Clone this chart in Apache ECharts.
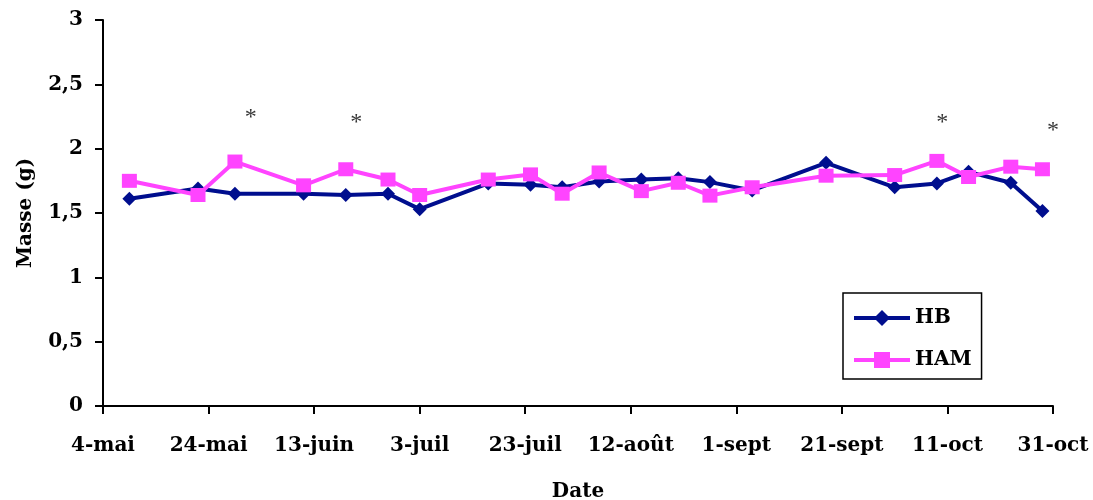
<!DOCTYPE html>
<html>
<head>
<meta charset="utf-8">
<script src="https://cdn.jsdelivr.net/npm/echarts@6/dist/echarts.min.js"></script>
<style>
  html, body { margin: 0; padding: 0; background: #ffffff; }
  #chart { width: 1093px; height: 500px; }
</style>
</head>
<body>
<div id="chart"></div>
<script>
// ---- data ----
const startDate = '2006-05-04';
const dates = [
  '2006-05-09', '2006-05-22', '2006-05-29', '2006-06-11', '2006-06-19', '2006-06-27', '2006-07-03',
  '2006-07-16', '2006-07-24', '2006-07-30', '2006-08-06', '2006-08-14', '2006-08-21', '2006-08-27',
  '2006-09-04', '2006-09-18', '2006-10-01', '2006-10-09', '2006-10-15', '2006-10-23', '2006-10-29'
];
const hbValues = [
  1.61, 1.69, 1.65, 1.65, 1.64, 1.65, 1.53,
  1.73, 1.72, 1.70, 1.745, 1.76, 1.77, 1.74,
  1.675, 1.89, 1.70, 1.73, 1.82, 1.735, 1.515
];
const hamValues = [
  1.75, 1.64, 1.90, 1.715, 1.84, 1.76, 1.64,
  1.76, 1.80, 1.65, 1.815, 1.67, 1.735, 1.635,
  1.70, 1.79, 1.795, 1.905, 1.78, 1.86, 1.84
];
const starDates = ['2006-06-01', '2006-06-21', '2006-10-10', '2006-10-31'];
const starValues = [2.245, 2.21, 2.21, 2.15];
const tickLabels = ['4-mai', '24-mai', '13-juin', '3-juil', '23-juil', '12-août', '1-sept', '21-sept', '11-oct', '31-oct'];
const yTickLabels = ['0', '0,5', '1', '1,5', '2', '2,5', '3'];

// ---- helpers ----
function dayOffset(d) {
  const p = d.split('-').map(Number);
  const s = startDate.split('-').map(Number);
  return Math.round((Date.UTC(p[0], p[1] - 1, p[2]) - Date.UTC(s[0], s[1] - 1, s[2])) / 86400000);
}
const xDays = dates.map(dayOffset);
const hbData = xDays.map((x, i) => [x, hbValues[i]]);
const hamData = xDays.map((x, i) => [x, hamValues[i]]);
const starData = starDates.map((d, i) => [dayOffset(d), starValues[i]]);

const FONT = "'DejaVu Serif', 'Liberation Serif', serif";
const NAVY = '#000E8E';
const PINK = '#FF44FF';

const chart = echarts.init(document.getElementById('chart'), null, { renderer: 'canvas' });
chart.setOption({
  animation: false,
  backgroundColor: '#ffffff',
  grid: { left: 103, right: 40, top: 20, bottom: 94, containLabel: false, outerBoundsMode: 'none' },
  legend: {
    orient: 'vertical',
    left: 843,
    top: 293,
    padding: [15, 10, 9, 9],
    itemGap: 22,
    itemWidth: 56,
    itemHeight: 20,
    borderColor: '#000',
    borderWidth: 1.5,
    lineStyle: { width: 4 },
    textStyle: { fontFamily: FONT, fontWeight: 'bold', fontSize: 20, color: '#000' },
    data: ['HB', 'HAM']
  },
  xAxis: {
    type: 'value',
    min: 0, max: 180, interval: 20,
    name: 'Date',
    nameLocation: 'middle',
    nameGap: 76,
    nameTextStyle: { fontFamily: FONT, fontWeight: 'bold', fontSize: 20, color: '#000' },
    axisLine: { lineStyle: { color: '#000', width: 2 } },
    axisTick: { length: 8, lineStyle: { color: '#000', width: 2 } },
    splitLine: { show: false },
    axisLabel: {
      margin: 30,
      fontFamily: FONT, fontWeight: 'bold', fontSize: 20, color: '#000',
      formatter: v => tickLabels[Math.round(v / 20)]
    }
  },
  yAxis: {
    type: 'value',
    min: 0, max: 3, interval: 0.5,
    name: 'Masse (g)',
    nameLocation: 'middle',
    nameGap: 67,
    nameRotate: 90,
    nameTextStyle: { fontFamily: FONT, fontWeight: 'bold', fontSize: 20, color: '#000' },
    axisLine: { show: true, lineStyle: { color: '#000', width: 2 } },
    axisTick: { show: true, length: 8, lineStyle: { color: '#000', width: 2 } },
    splitLine: { show: false },
    axisLabel: {
      margin: 20,
      fontFamily: FONT, fontWeight: 'bold', fontSize: 20, color: '#000',
      formatter: v => yTickLabels[Math.round(v * 2)]
    }
  },
  series: [
    {
      name: 'HB',
      type: 'line',
      data: hbData,
      symbol: 'diamond',
      symbolSize: [14, 14],
      itemStyle: { color: NAVY },
      lineStyle: { color: NAVY, width: 4 },
      z: 2
    },
    {
      name: 'HAM',
      type: 'line',
      data: hamData,
      symbol: 'rect',
      symbolSize: [15, 14],
      itemStyle: { color: PINK },
      lineStyle: { color: PINK, width: 4 },
      z: 3
    },
    {
      name: 'stars',
      type: 'scatter',
      data: starData,
      symbolSize: 1,
      itemStyle: { color: 'rgba(0,0,0,0)' },
      silent: true,
      label: {
        show: true,
        position: 'inside',
        formatter: '*',
        offset: [0, 1],
        fontFamily: "'Liberation Serif', serif",
        fontSize: 24,
        color: '#000'
      }
    }
  ]
});
</script>
</body>
</html>
